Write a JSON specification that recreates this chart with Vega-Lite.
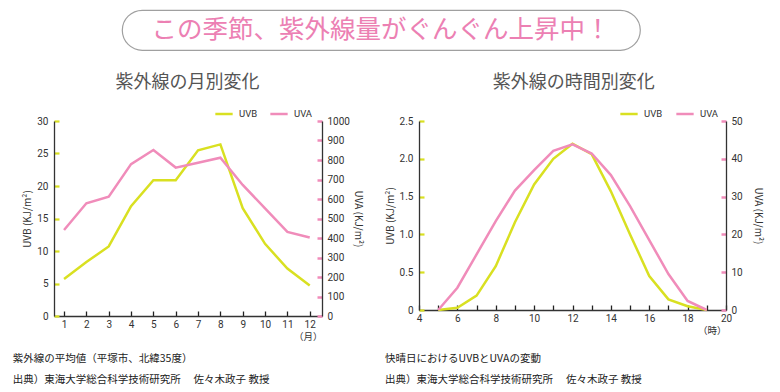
{
  "$schema": "https://vega.github.io/schema/vega-lite/v6.json",
  "padding": {"left": 12, "top": 9, "right": 5, "bottom": 0},
  "background": "white",
  "config": {
    "font": "Noto Sans CJK JP",
    "view": {"stroke": null},
    "axis": {
      "grid": false,
      "domainColor": "#333333",
      "domainWidth": 1.3,
      "labelColor": "#333333",
      "labelFont": "Roboto",
      "labelFontSize": 10,
      "titleFont": "Noto Sans CJK JP",
      "titleFontSize": 10,
      "titleFontWeight": "normal",
      "titleColor": "#333333"
    },
    "legend": {
      "labelFont": "Roboto",
      "labelFontSize": 9.5,
      "labelColor": "#333333"
    },
    "title": {"font": "Noto Sans CJK JP", "fontWeight": "normal"}
  },
  "spacing": 23,
  "vconcat": [
    {
      "spacing": 20,
      "hconcat": [
        {
          "width": 47,
          "height": 40,
          "data": {"values": []},
          "mark": "text",
          "encoding": {}
        },
        {
          "width": 518,
          "height": 40,
          "view": {"stroke": "#a0a0a0", "strokeWidth": 1.2, "cornerRadius": 20, "fill": "white"},
          "data": {"values": [{"t": "この季節、紫外線量がぐんぐん上昇中！"}]},
          "mark": {"type": "text", "fontSize": 25.5, "color": "#ec80b3", "font": "Noto Sans CJK JP", "baseline": "middle"},
          "encoding": {"text": {"field": "t"}}
        }
      ]
    },
    {
      "spacing": 22,
      "resolve": {"scale": {"color": "independent"}, "legend": {"color": "independent"}},
      "hconcat": [
        {
          "title": {"text": "紫外線の月別変化", "fontSize": 18, "color": "#555555", "anchor": "middle", "offset": 12},
          "vconcat": [
            {
              "width": 268,
              "height": 195,
              "title": {
                "text": ["紫外線の平均値（平塚市、北緯35度）", "出典）東海大学総合科学技術研究所　 佐々木政子 教授"],
                "orient": "bottom", "anchor": "start", "fontSize": 10.5, "color": "#222222", "lineHeight": 21, "offset": 13, "dx": -10
              },
              "data": {"values": [
                {"month": 1, "UVB": 5.7, "UVA": 441},
                {"month": 2, "UVB": 8.3, "UVA": 578},
                {"month": 3, "UVB": 10.7, "UVA": 612},
                {"month": 4, "UVB": 16.9, "UVA": 779},
                {"month": 5, "UVB": 20.9, "UVA": 851},
                {"month": 6, "UVB": 20.9, "UVA": 761},
                {"month": 7, "UVB": 25.5, "UVA": 786},
                {"month": 8, "UVB": 26.4, "UVA": 812},
                {"month": 9, "UVB": 16.6, "UVA": 672},
                {"month": 10, "UVB": 11.1, "UVA": 552},
                {"month": 11, "UVB": 7.3, "UVA": 431},
                {"month": 12, "UVB": 4.7, "UVA": 403}
              ]},
              "encoding": {
                "x": {"field": "month", "type": "quantitative", "scale": {"domain": [0.55, 12.55], "nice": false, "zero": false},
                  "axis": {"values": [1,2,3,4,5,6,7,8,9,10,11,12], "labelFlush": false, "title": "（月）", "titleAnchor": "end", "titlePadding": 2, "titleFontSize": 9.5,
                    "tickColor": "#222222", "tickSize": -5, "tickWidth": 1.3, "labelPadding": 8}}
              },
              "layer": [
                {
                  "mark": {"type": "line", "strokeWidth": 2.5},
                  "encoding": {
                    "y": {"field": "UVB", "type": "quantitative", "scale": {"domain": [0, 30]},
                      "axis": {"orient": "left", "values": [0,5,10,15,20,25,30], "title": "UVB (KJ/m²)", "titlePadding": 4,
                        "tickColor": "#d9e021", "tickSize": -5, "tickWidth": 2.2, "labelPadding": 11}},
                    "color": {"datum": "UVB", "type": "nominal",
                      "scale": {"domain": ["UVB", "UVA"], "range": ["#d9e021", "#f08cba"]},
                      "legend": {"orient": "none", "legendX": 160, "legendY": -17, "direction": "horizontal", "title": null,
                        "symbolType": "stroke", "symbolStrokeWidth": 2.5, "symbolSize": 300, "columnPadding": 7, "labelOffset": 5}}
                  }
                },
                {
                  "mark": {"type": "line", "strokeWidth": 2.5},
                  "encoding": {
                    "y": {"field": "UVA", "type": "quantitative", "scale": {"domain": [0, 1000]},
                      "axis": {"orient": "right", "values": [0,100,200,300,400,500,600,700,800,900,1000], "format": "d", "title": "UVA (KJ/m²)", "titlePadding": 3,
                        "tickColor": "#f08cba", "tickSize": -5, "tickWidth": 2.5, "labelPadding": 10}},
                    "color": {"datum": "UVA", "type": "nominal"}
                  }
                }
              ],
              "resolve": {"scale": {"y": "independent"}}
            }
          ]
        },
        {
          "title": {"text": "紫外線の時間別変化", "fontSize": 18, "color": "#555555", "anchor": "middle", "offset": 12},
          "vconcat": [
            {
              "width": 307,
              "height": 189,
              "title": {
                "text": ["快晴日におけるUVBとUVAの変動", "出典）東海大学総合科学技術研究所　 佐々木政子 教授"],
                "orient": "bottom", "anchor": "start", "fontSize": 10.5, "color": "#222222", "lineHeight": 21, "offset": 19
              },
              "data": {"values": [
                {"hour": 5, "UVB": 0, "UVA": 0},
                {"hour": 6, "UVB": 0.03, "UVA": 5.9},
                {"hour": 7, "UVB": 0.19, "UVA": 14.7},
                {"hour": 8, "UVB": 0.58, "UVA": 23.5},
                {"hour": 9, "UVB": 1.16, "UVA": 31.6},
                {"hour": 10, "UVB": 1.66, "UVA": 37},
                {"hour": 11, "UVB": 2.0, "UVA": 42.1},
                {"hour": 12, "UVB": 2.2, "UVA": 43.8},
                {"hour": 13, "UVB": 2.06, "UVA": 41.4},
                {"hour": 14, "UVB": 1.57, "UVA": 35.7},
                {"hour": 15, "UVB": 1.0, "UVA": 27.5},
                {"hour": 16, "UVB": 0.45, "UVA": 18.5},
                {"hour": 17, "UVB": 0.14, "UVA": 9.5},
                {"hour": 18, "UVB": 0.05, "UVA": 2.4},
                {"hour": 19, "UVB": 0, "UVA": 0}
              ]},
              "encoding": {
                "x": {"field": "hour", "type": "quantitative", "scale": {"domain": [4, 20], "nice": false, "zero": false},
                  "axis": {"values": [4,5,6,7,8,9,10,11,12,13,14,15,16,17,18,19,20],
                    "labelExpr": "datum.value % 2 == 0 ? datum.label : ''", "labelFlush": false,
                    "title": "（時）", "titleAnchor": "end", "titlePadding": 2, "titleFontSize": 9.5,
                    "tickColor": "#222222", "tickSize": -5, "tickWidth": 1.3, "labelPadding": 8}}
              },
              "layer": [
                {
                  "mark": {"type": "line", "strokeWidth": 2.5},
                  "encoding": {
                    "y": {"field": "UVB", "type": "quantitative", "scale": {"domain": [0, 2.5]},
                      "axis": {"orient": "left", "values": [0,0.5,1,1.5,2,2.5],
                        "labelExpr": "datum.value == 0 ? '0' : format(datum.value, '.1f')",
                        "title": "UVB (KJ/m²)", "titlePadding": 4,
                        "tickColor": "#d9e021", "tickSize": -5, "tickWidth": 2.2, "labelPadding": 11}},
                    "color": {"datum": "UVB", "type": "nominal",
                      "scale": {"domain": ["UVB", "UVA"], "range": ["#d9e021", "#f08cba"]},
                      "legend": {"orient": "none", "legendX": 200, "legendY": -17, "direction": "horizontal", "title": null,
                        "symbolType": "stroke", "symbolStrokeWidth": 2.5, "symbolSize": 300, "columnPadding": 8, "labelOffset": 5}}
                  }
                },
                {
                  "mark": {"type": "line", "strokeWidth": 2.5},
                  "encoding": {
                    "y": {"field": "UVA", "type": "quantitative", "scale": {"domain": [0, 50]},
                      "axis": {"orient": "right", "values": [0,10,20,30,40,50], "title": "UVA (KJ/m²)", "titlePadding": 10,
                        "tickColor": "#f08cba", "tickSize": -5, "tickWidth": 2.5, "labelPadding": 10}},
                    "color": {"datum": "UVA", "type": "nominal"}
                  }
                }
              ],
              "resolve": {"scale": {"y": "independent"}}
            }
          ]
        }
      ]
    }
  ]
}
